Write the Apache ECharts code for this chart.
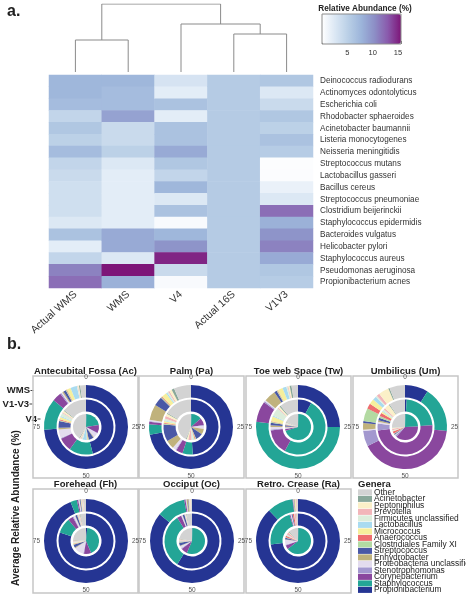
<!DOCTYPE html>
<html><head><meta charset="utf-8">
<script src="https://cdn.jsdelivr.net/npm/echarts@6/dist/echarts.min.js"></script>
<style>html,body{margin:0;padding:0;background:#fff}#c{width:466px;height:600px}</style>
</head><body><div id="c"></div>
<script>
// ---------- Panel a: heatmap data ----------
const heatCols = ['Actual WMS', 'WMS', 'V4', 'Actual 16S', 'V1V3'];
const species = ['Deinococcus radiodurans','Actinomyces odontolyticus','Escherichia coli','Rhodobacter sphaeroides','Acinetobacter baumannii','Listeria monocytogenes','Neisseria meningitidis','Streptococcus mutans','Lactobacillus gasseri','Bacillus cereus','Streptococcus pneumoniae','Clostridium beijerinckii','Staphylococcus epidermidis','Bacteroides vulgatus','Helicobacter pylori','Staphylococcus aureus','Pseudomonas aeruginosa','Propionibacterium acnes'];
const actualWMS = [7.5,7.5,7,4.5,6,5,7,4.5,4,3.5,3.5,3.5,2.5,6.5,2,4.5,11,12];
const wmsVals   = [7.5,7,7,9,4,4,5,2.5,2,2,2,2,2,8.5,8.5,2.5,16,8];
const v4Vals    = [3,2,6.5,2,6.5,6.5,8.5,6,4.5,7.5,2.5,6.5,0.5,7.5,10,15,4,0.5];
const actual16S = [5.56,5.56,5.56,5.56,5.56,5.56,5.56,5.56,5.56,5.56,5.56,5.56,5.56,5.56,5.56,5.56,5.56,5.56];
const v1v3Vals  = [6,2.5,4,6,5,6.5,5.5,0.2,0.3,1.5,2.5,12,8,10,11,8.5,6,5.5];
const colorbarTicks = [5, 10, 15];
// dendrogram: leaves 0..4 (column order), merges [childA, childB, height]; merge ids start at 5
const dendroMerges = [[0,1,32],[3,4,38],[2,6,48],[5,7,68]];

// ---------- Panel b: pie data (slice order = clockwise from 0) ----------
const genera = ['Propionibacterium','Staphylococcus','Corynebacterium','Stenotrophomonas','Proteobacteria unclassified','Enhydrobacter','Streptococcus','Clostridiales Family XI','Anaerococcus','Micrococcus','Lactobacillus','Firmicutes unclassified','Prevotella','Peptoniphilus','Acinetobacter','Other'];
const generaColors = ['#253593','#23a596','#8a479e','#a398cf','#e3dcee','#c0b27c','#4a58a6','#b3daa2','#ee6d6f','#f6ef9c','#a9dbf0','#dceddb','#f2b5b9','#fbf0c8','#8aa89a','#d3d3d3'];
const ringNames = ['WMS', 'V1-V3', 'V4'];
const angleTicks = [0, 25, 50, 75];

const acWMS = [74,12,3.5,0.5,0.5,0.5,1,0.3,0.2,1.5,2.5,0.3,0.2,0.3,0.5,2.2];
const acV13 = [46,14,8,0.5,5,1,4,0.5,0.5,1.5,0.5,2,0.5,1,0.5,14.5];
const acV4  = [0.5,22,10,1,6,1,6,1,0.5,1,5,2,1,1,1,41];
const paWMS = [72,4,1,0.3,0.5,6,3.5,0.3,0.3,2,0.5,0.5,0.5,1,1,6.6];
const paV13 = [49,6,4,0.5,2,5,10,0.5,0.5,1,0.5,1,1.5,1.5,0.5,16.5];
const paV4  = [0.5,13,9,1,4,7,9,1,1,1,1,2,4,2,1,43.5];
const twWMS = [25,52,8,0.5,0.5,4.5,1,0.3,0.2,2,1.5,0.5,0.3,0.5,0.7,2.5];
const twV13 = [8,50,15,0.5,1.5,1,1.5,0.5,0.3,3,0.5,5,0.5,1,0.7,11];
const twV4  = [0.5,70,2,0.5,1.5,1,1.5,0.5,0.5,0.5,0.5,1,0.5,0.5,0.5,18.5];
const umWMS = [9,17.5,41,6,0.5,2.5,0.8,5,2,2,1.5,0.5,1.2,4,0.5,6];
const umV13 = [1,23,49,4,1,1,1.5,1,2,1,0.5,1,1,3,0.5,9.5];
const umV4  = [0.5,24,37,2,1,0.5,1,0.5,3,0.5,0.5,0.5,2,1,0.5,25.5];
const fhWMS = [94,2.5,0.5,0.2,0.3,0.1,0.3,0.1,0.1,0.2,0.2,0.1,0.3,0.2,0.1,0.8];
const fhV13 = [80,9,3,0.5,1,0.2,1,0.2,0.2,0.2,0.3,0.2,0.5,0.2,0.3,3.2];
const fhV4  = [1.5,42,9,1,12,1,4,0.5,0.5,1,0.5,1.5,1,0.5,0.5,23.5];
const ocWMS = [86,11,0.5,0.2,0.2,0.5,0.2,0.1,0.1,0.2,0.1,0.1,0.2,0.2,0.1,0.3];
const ocV13 = [59,32,2.5,0.3,0.5,0.2,1,0.1,0.1,0.1,0.2,0.2,0.3,0.2,0.3,3];
const ocV4  = [0.5,56,8,1,3,0.5,4,0.5,0.5,0.5,0.5,1,1,0.5,0.5,22];
const raWMS = [88,10,0.2,0.1,0.1,0.2,0.1,0.1,0.1,0.3,0.1,0.1,0.3,0.1,0.1,0.2];
const raV13 = [73,22,0.5,0.2,0.5,0.1,0.5,0.1,0.8,0.1,0.1,0.1,1,0.2,0.3,0.5];
const raV4  = [0.5,64,5,1,6,0.5,2,0.5,2,0.5,0.5,1,3,0.5,1,12];

// ---------- layout ----------
const FONT = '"Liberation Sans", Arial, Helvetica, sans-serif';
const panels = [
  {title:'Antecubital Fossa (Ac)', cx:86,  cy:427, box:[33,376,105,102], rings:[acWMS,acV13,acV4]},
  {title:'Palm (Pa)',              cx:191, cy:427, box:[139,376,105,102], rings:[paWMS,paV13,paV4]},
  {title:'Toe web Space (Tw)',     cx:298, cy:427, box:[246,376,105,102], rings:[twWMS,twV13,twV4]},
  {title:'Umbilicus (Um)',         cx:405, cy:427, box:[353,376,105,102], rings:[umWMS,umV13,umV4]},
  {title:'Forehead (Fh)',          cx:86,  cy:541, box:[33,489,105,104], rings:[fhWMS,fhV13,fhV4]},
  {title:'Occiput (Oc)',           cx:192, cy:541, box:[139,489,105,104], rings:[ocWMS,ocV13,ocV4]},
  {title:'Retro. Crease (Ra)',     cx:298, cy:541, box:[246,489,105,104], rings:[raWMS,raV13,raV4]}
];
const ringRadii = [[29.5,42],[15.5,27.5],[0,13]];

const heatCols2 = [actualWMS, wmsVals, v4Vals, actual16S, v1v3Vals];
const heatData = [];
heatCols2.forEach((col, ci) => col.forEach((v, ri) => heatData.push([ci, ri, v])));

// dendrogram links
const nodeX = [0,1,2,3,4], nodeH = [0,0,0,0,0];
const dendroLines = [];
dendroMerges.forEach(m => {
  const [a, b, h] = m;
  dendroLines.push({coords: [[nodeX[a], nodeH[a]], [nodeX[a], h], [nodeX[b], h], [nodeX[b], nodeH[b]]]});
  nodeX.push((nodeX[a] + nodeX[b]) / 2); nodeH.push(h);
});

const series = [
  {type:'heatmap', xAxisIndex:0, yAxisIndex:0, data:heatData, silent:true, animation:false,
   itemStyle:{borderWidth:0}, emphasis:{disabled:true}},
  {type:'lines', coordinateSystem:'cartesian2d', xAxisIndex:1, yAxisIndex:1, polyline:true,
   silent:true, animation:false, data:dendroLines, lineStyle:{color:'#8a8a8a', width:1, opacity:1}}
];
panels.forEach(p => {
  p.rings.forEach((vals, ri) => {
    series.push({
      type:'pie', center:[p.cx, p.cy], radius:ringRadii[ri], startAngle:90, clockwise:true,
      silent:true, animation:false, avoidLabelOverlap:false, label:{show:false}, labelLine:{show:false},
      emphasis:{disabled:true}, itemStyle:{borderWidth:0},
      data: genera.map((g, gi) => ({name:g, value:vals[gi], itemStyle:{color:generaColors[gi]}}))
    });
  });
});

const graphic = [
  {type:'text', left:7, top:4, style:{text:'a.', font:'bold 16px '+FONT, fill:'#222'}},
  {type:'text', left:7, top:337, style:{text:'b.', font:'bold 16px '+FONT, fill:'#222'}},
  {type:'text', x:365, y:9, style:{text:'Relative Abundance (%)', font:'bold 8.2px '+FONT, fill:'#222', align:'center', verticalAlign:'middle'}},
  {type:'text', x:16, y:508, rotation:Math.PI/2, style:{text:'Average Relative Abundance (%)', font:'bold 10px '+FONT, fill:'#222', align:'center', verticalAlign:'middle'}},
  {type:'text', left:358, top:479, style:{text:'Genera', font:'bold 9.5px '+FONT, fill:'#222'}}
];
const ringLabelPos = [[30, 390.5], [29, 404], [37, 419]];
ringNames.forEach((n, i) => {
  graphic.push({type:'text', x:ringLabelPos[i][0], y:ringLabelPos[i][1], style:{text:n, font:'bold 9.5px '+FONT, fill:'#222', align:'right', verticalAlign:'middle'}});
  graphic.push({type:'line', shape:{x1:ringLabelPos[i][0]+0.5, y1:ringLabelPos[i][1], x2:ringLabelPos[i][0]+3.5, y2:ringLabelPos[i][1]}, style:{stroke:'#444', lineWidth:1}});
});
panels.forEach(p => {
  const [x, y, w, h] = p.box;
  graphic.push({type:'rect', shape:{x:x, y:y, width:w, height:h}, style:{fill:'none', stroke:'#c6c6c6', lineWidth:1.5}});
  graphic.push({type:'text', x:x + w/2, y:y - 4.5, style:{text:p.title, font:'bold 9.5px '+FONT, fill:'#222', align:'center', verticalAlign:'middle'}});
});

const option = {
  backgroundColor:'#fff',
  animation:false,
  textStyle:{fontFamily:FONT},
  grid:[
    {left:49, top:75, width:264, height:213},
    {left:49, top:4, width:264, height:68},
    {left:322, top:14, width:79, height:30, show:true, borderColor:'#8c8c8c', borderWidth:1, backgroundColor:'transparent', z:10}
  ],
  xAxis:[
    {gridIndex:0, type:'category', data:heatCols, axisLine:{show:false}, axisTick:{show:false}, splitArea:{show:false},
     axisLabel:{rotate:42, interval:0, fontSize:10.5, color:'#333', margin:5}},
    {gridIndex:1, type:'value', min:-0.5, max:4.5, show:false},
    {gridIndex:2, type:'value', min:0, max:15.6, interval:5, axisLine:{show:false}, splitLine:{show:false},
     axisTick:{show:true, inside:true, length:3, lineStyle:{color:'#777'}},
     axisLabel:{fontSize:7.5, color:'#333', margin:5, formatter: v => colorbarTicks.includes(v) ? String(v) : ''}}
  ],
  yAxis:[
    {gridIndex:0, type:'category', data:species, inverse:true, position:'right', axisLine:{show:false}, axisTick:{show:false},
     axisLabel:{fontSize:8.2, color:'#333', margin:7, interval:0}},
    {gridIndex:1, type:'value', min:0, max:68, show:false},
    {gridIndex:2, type:'value', show:false}
  ],
  visualMap:{type:'continuous', seriesIndex:0, min:0, max:15.6, orient:'horizontal', left:322, top:14,
    itemWidth:30, itemHeight:79, padding:0, calculable:false, hoverLink:false, text:null, showLabel:false,
    inRange:{color:['#ffffff','#dbe7f4','#b9cfe6','#9cb4da','#8c8ec6','#8a5aac','#7d1578']}},
  polar: panels.map(p => ({center:[p.cx, p.cy], radius:42})),
  angleAxis: panels.map((p, i) => ({polarIndex:i, type:'value', min:0, max:100, interval:25, startAngle:90, clockwise:true,
    axisLine:{show:false}, axisTick:{show:false}, splitLine:{show:false},
    axisLabel:{fontSize:6.5, color:'#555', margin:4, formatter: v => angleTicks.includes(v) ? String(v) : ''}})),
  radiusAxis: panels.map((p, i) => ({polarIndex:i, type:'value', min:0, max:1, show:false})),
  legend:{orient:'vertical', left:358, top:488.4, padding:0, itemGap:-1.5, itemWidth:14, itemHeight:6,
    icon:'rect', selectedMode:false, data:genera.slice().reverse(),
    textStyle:{fontSize:8.4, color:'#222', lineHeight:6.6, padding:[0,0,0,-3]}},
  graphic: graphic,
  series: series
};
const chart = echarts.init(document.getElementById('c'), null, {renderer:'canvas'});
chart.setOption(option);
</script></body></html>
